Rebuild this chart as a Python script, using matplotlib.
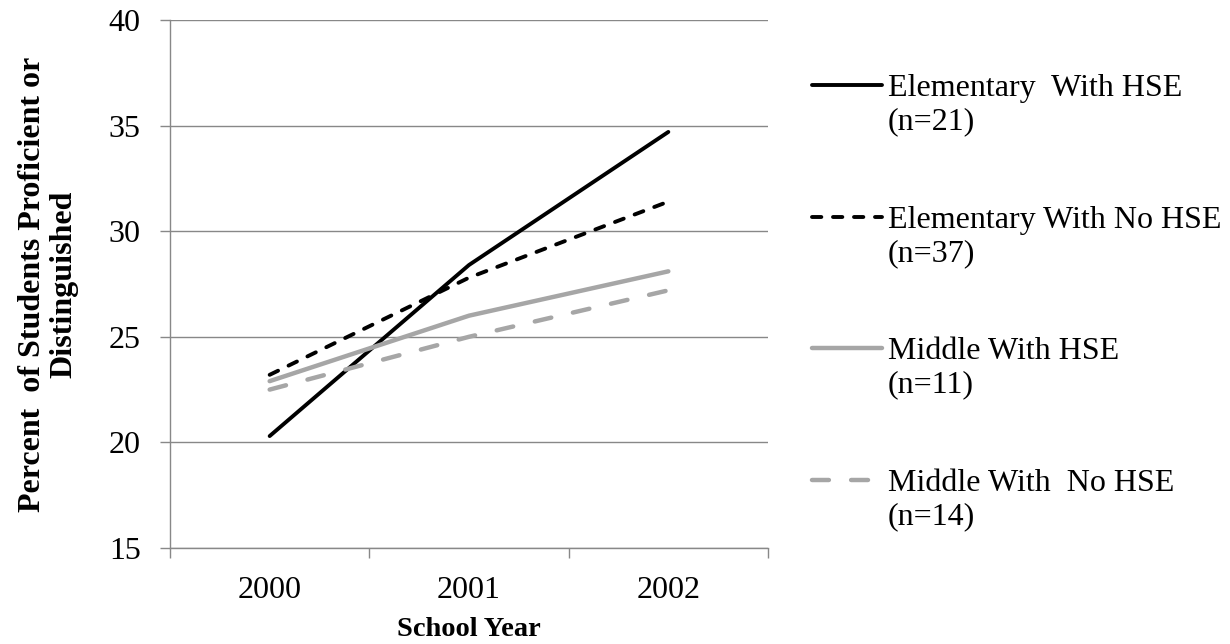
import matplotlib
matplotlib.use("Agg")
import matplotlib.pyplot as plt
from matplotlib.lines import Line2D

years = ["2000", "2001", "2002"]
elem_hse = [20.3, 28.4, 34.7]
elem_no_hse = [23.2, 27.8, 31.4]
mid_hse = [22.9, 26.0, 28.1]
mid_no_hse = [22.5, 25.0, 27.2]
labels = ["Elementary  With HSE\n(n=21)", "Elementary With No HSE\n(n=37)",
          "Middle With HSE\n(n=11)", "Middle With  No HSE\n(n=14)"]
yticks = [15, 20, 25, 30, 35, 40]

plt.rcParams['font.family'] = ['Liberation Serif', 'DejaVu Serif']
fig = plt.figure(figsize=(12.30, 6.44), dpi=100)
ax = fig.add_axes([170/1230, 1-548/644, (768-170)/1230, (548-20)/644])

x = list(range(len(years)))
styles = [
    dict(color='black', lw=2.8, ls='-', solid_capstyle='round'),
    dict(color='black', lw=2.8, ls=(0, (2.4, 3.0)), dash_capstyle='round'),
    dict(color='#a6a6a6', lw=3.2, ls='-', solid_capstyle='round'),
    dict(color='#a6a6a6', lw=3.2, ls=(0, (3.8, 5.0)), dash_capstyle='round'),
]
series = [elem_hse, elem_no_hse, mid_hse, mid_no_hse]
for s, st in zip(series, styles):
    ax.plot(x, s, **st, zorder=3)

ax.set_xlim(-0.5, 2.5)
ax.set_ylim(15, 40)
ax.set_yticks(yticks)
ax.set_xticks(x)
ax.set_xticklabels(years)
ax.set_xticks([-0.5, 0.5, 1.5, 2.5], minor=True)
ax.tick_params(axis='x', which='major', length=0, pad=20, labelsize=23)
ax.tick_params(axis='x', which='minor', length=7, width=1, color='#888888', direction='out')
ax.tick_params(axis='y', length=7, width=1, color='#888888', direction='out', labelsize=23, pad=14)
ax.grid(axis='y', color='#888888', lw=1)
ax.set_axisbelow(True)
for sp in ['top', 'right']:
    ax.spines[sp].set_visible(False)
for sp in ['left', 'bottom']:
    ax.spines[sp].set_color('#888888')
    ax.spines[sp].set_linewidth(1)

ax.set_xlabel("School Year", fontsize=20.5, fontweight='bold', labelpad=9)
ax.set_ylabel("Percent  of Students Proficient or\nDistinguished", fontsize=23,
              fontweight='bold', labelpad=22, linespacing=1.1)

# manual legend (handle aligned with first text line)
entry_y = [85, 217, 348, 480]
for lab, st, yy in zip(labels, styles, entry_y):
    yf = 1 - yy/644
    fig.add_artist(Line2D([812/1230, 882/1230], [yf, yf], transform=fig.transFigure, **st))
    fig.text(888/1230, yf + 11/644, lab, fontsize=23, va='top', ha='left',
             transform=fig.transFigure, linespacing=1.19)

fig.savefig("out.png", dpi=100)
